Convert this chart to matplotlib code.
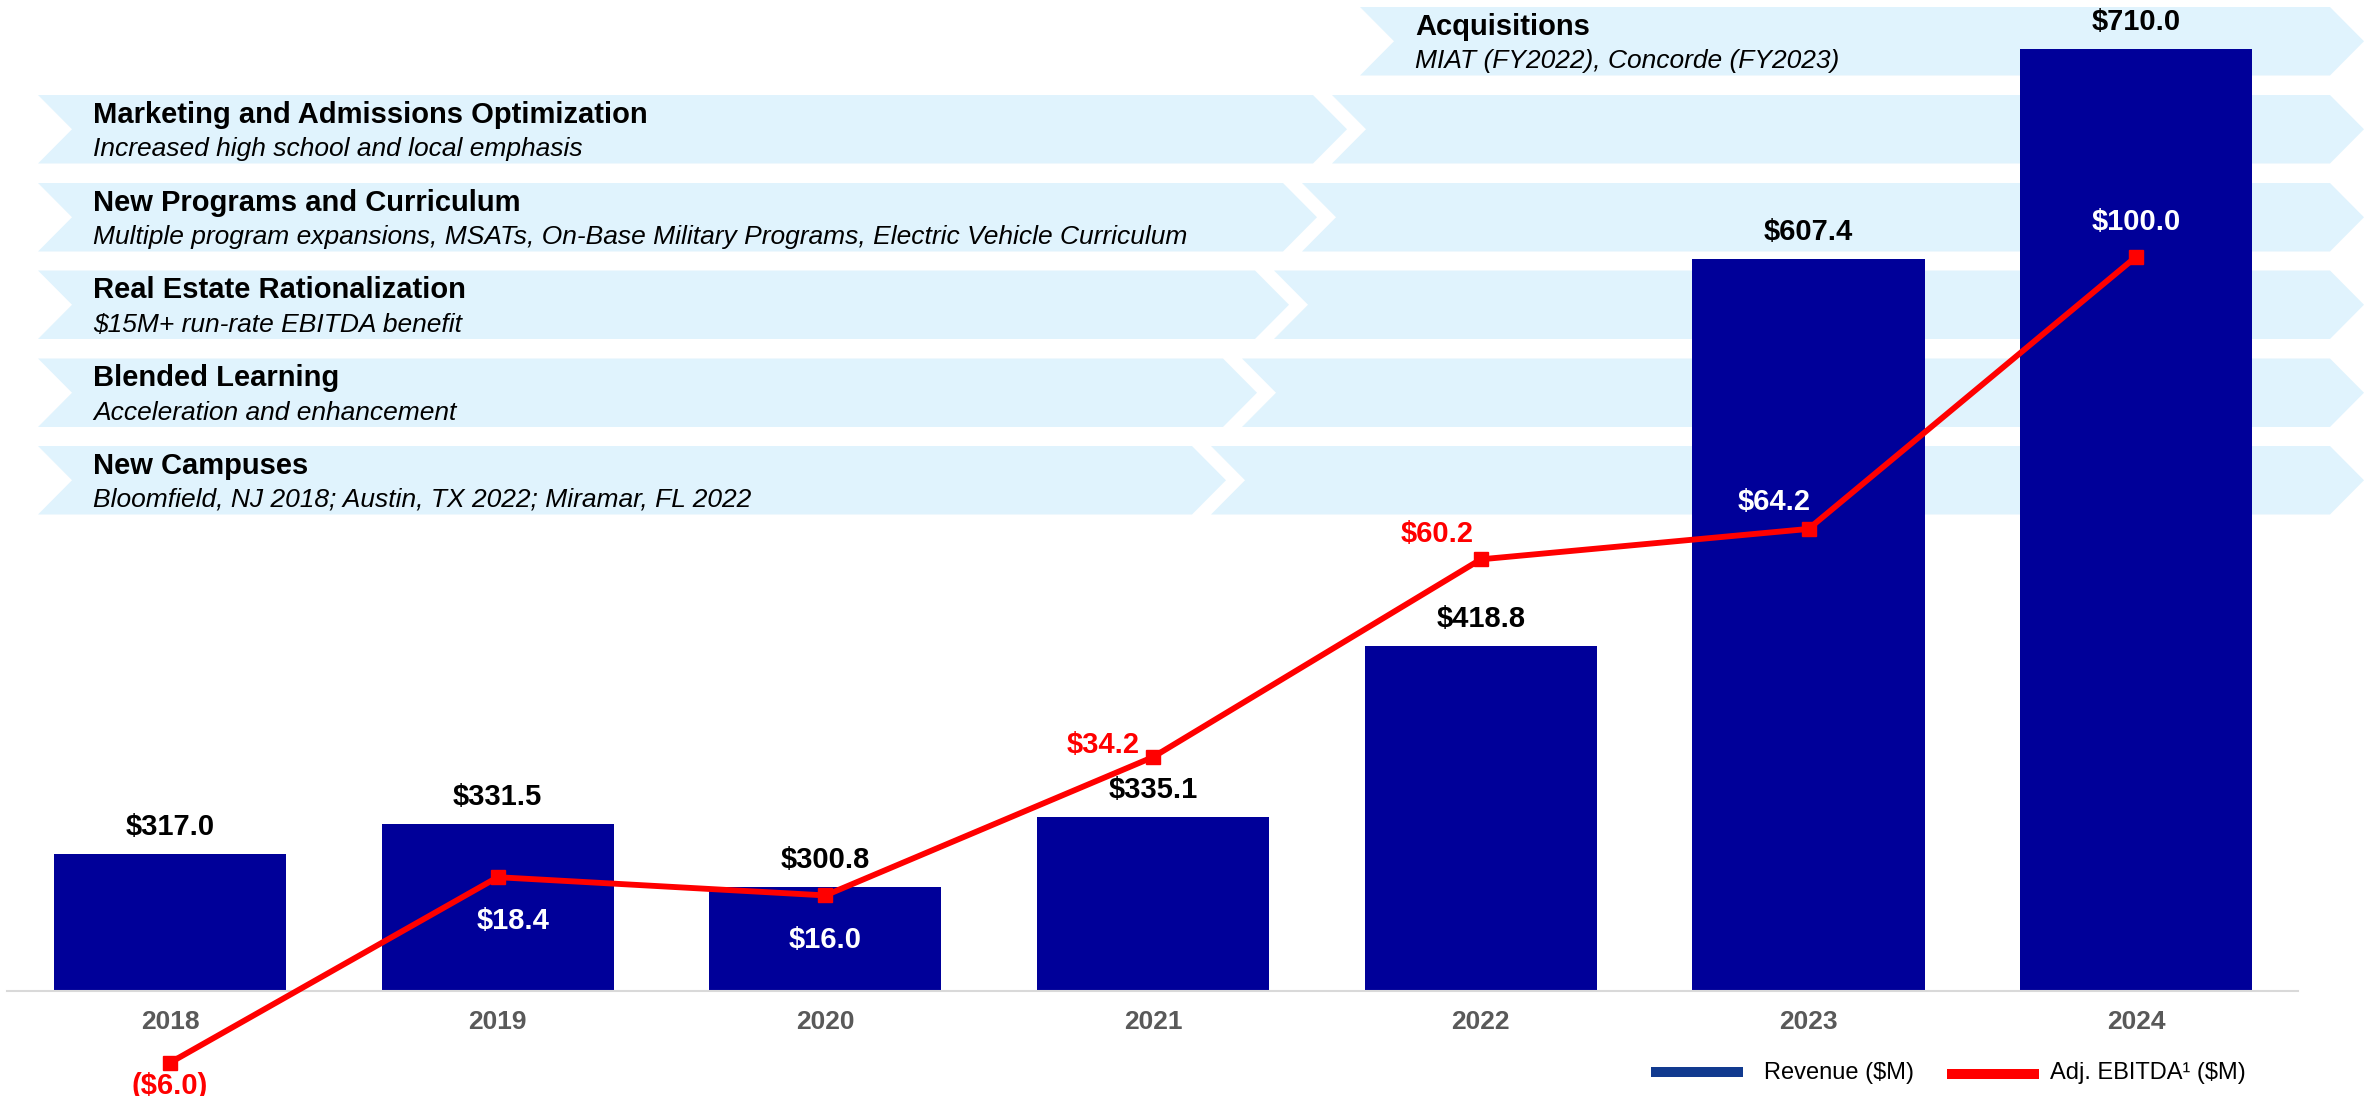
import matplotlib
matplotlib.use("Agg")
import matplotlib.pyplot as plt
from matplotlib.patches import Polygon, Rectangle

plt.rcParams['font.family'] = ['Liberation Sans', 'DejaVu Sans']

# data
years = ["2018", "2019", "2020", "2021", "2022", "2023", "2024"]
revenue = [317.0, 331.5, 300.8, 335.1, 418.8, 607.4, 710.0]
ebitda = [-6.0, 18.4, 16.0, 34.2, 60.2, 64.2, 100.0]

banner_titles = ["Acquisitions",
                 "Marketing and Admissions Optimization",
                 "New Programs and Curriculum",
                 "Real Estate Rationalization",
                 "Blended Learning",
                 "New Campuses"]
banner_notes = ["MIAT (FY2022), Concorde (FY2023)",
                "Increased high school and local emphasis",
                "Multiple program expansions, MSATs, On-Base Military Programs, Electric Vehicle Curriculum",
                "$15M+ run-rate EBITDA benefit",
                "Acceleration and enhancement",
                "Bloomfield, NJ 2018; Austin, TX 2022; Miramar, FL 2022"]

# layout (pixels)
W, H = 2369, 1096
BASE_Y = 991
X0, DX = 170, 327.7
REV_MIN, REV_PX = 250.2, 2.049
EB_ZERO_Y, EB_PX = 1017.1, 7.604

BAR_COLOR = "#000099"
BANNER_COLOR = "#E0F3FD"

# ebitda label offsets (px) and colours
eb_offsets = [(0, -23), (15, -44), (0, -45), (-50, 12), (-44, 25), (-34, 27), (0, 35)]
eb_colors = ["red", "white", "white", "red", "red", "white", "white"]

fig = plt.figure(figsize=(W / 100, H / 100), dpi=100)

# background layer for banners and legend (pixel coords)
bg = fig.add_axes([0, 0, 1, 1])
bg.set_xlim(0, W)
bg.set_ylim(H, 0)
bg.axis("off")
bg.set_zorder(0)

tops = [7, 95, 183, 270.5, 358.5, 446]
bh = 68.5
depth = 34
splits = [None, 1313, 1283, 1255, 1223, 1192]
for i in range(len(banner_titles)):
    t = tops[i]
    b = t + bh
    m = t + bh / 2
    left = 1360 if i == 0 else 38
    if splits[i] is None:
        segs = [(left, 2330)]
    else:
        segs = [(left, splits[i]), (splits[i] + 19, 2330)]
    for xl, xs in segs:
        poly = Polygon([(xl, t), (xs, t), (xs + depth, m), (xs, b), (xl, b), (xl + depth, m)],
                       closed=True, facecolor=BANNER_COLOR, edgecolor="none")
        bg.add_patch(poly)
    bg.text(left + 55, t + 20, banner_titles[i], fontsize=21, fontweight="bold",
            va="center", ha="left", color="black")
    bg.text(left + 55, t + 54, banner_notes[i], fontsize=19, style="italic",
            va="center", ha="left", color="black")

# legend
bg.add_patch(Rectangle((1651, 1067), 92, 10, facecolor="#113A8F", edgecolor="none"))
bg.text(1764, 1073, "Revenue ($M)", fontsize=17, va="center", ha="left")
bg.add_patch(Rectangle((1947, 1069), 92, 10, facecolor="red", edgecolor="none"))
bg.text(2050, 1073, "Adj. EBITDA\u00b9 ($M)", fontsize=17, va="center", ha="left")

# main chart
ax = fig.add_axes([0, (H - BASE_Y) / H, 1, BASE_Y / H])
ax.set_zorder(1)
ax.patch.set_visible(False)
ax.set_xlim(-X0 / DX, (W - X0) / DX)
ax.set_ylim(REV_MIN, REV_MIN + BASE_Y / REV_PX)

x = list(range(len(years)))
ax.bar(x, revenue, width=0.708, color=BAR_COLOR, zorder=2)

for i, v in enumerate(revenue):
    ax.annotate(f"${v:.1f}", (i, v), xytext=(0, 27), textcoords="offset pixels",
                ha="center", va="center", fontsize=21, fontweight="bold", color="black")

for i, yr in enumerate(years):
    ax.annotate(yr, xy=(i, 0), xycoords=("data", "axes fraction"), xytext=(0, -31),
                textcoords="offset pixels", ha="center", va="center", fontsize=19,
                fontweight="bold", color="#595959", annotation_clip=False)

for s in ["top", "left", "right"]:
    ax.spines[s].set_visible(False)
ax.spines["bottom"].set_color("#D9D9D9")
ax.spines["bottom"].set_linewidth(1.5)
ax.spines["bottom"].set_bounds((7 - X0) / DX, (2298 - X0) / DX)
ax.set_xticks([])
ax.set_yticks([])

ax2 = ax.twinx()
ax2.set_ylim((EB_ZERO_Y - BASE_Y) / EB_PX, EB_ZERO_Y / EB_PX)
ax2.plot(x, ebitda, color="red", lw=4.2, marker="s", ms=10.5, clip_on=False, zorder=3)
for i, v in enumerate(ebitda):
    txt = f"(${abs(v):.1f})" if v < 0 else f"${v:.1f}"
    dx, dy = eb_offsets[i]
    ax2.annotate(txt, (i, v), xytext=(dx, dy), textcoords="offset pixels",
                 ha="center", va="center", fontsize=21, fontweight="bold",
                 color=eb_colors[i], annotation_clip=False)
ax2.axis("off")

fig.savefig("out.png", dpi=100)
plt.close()
